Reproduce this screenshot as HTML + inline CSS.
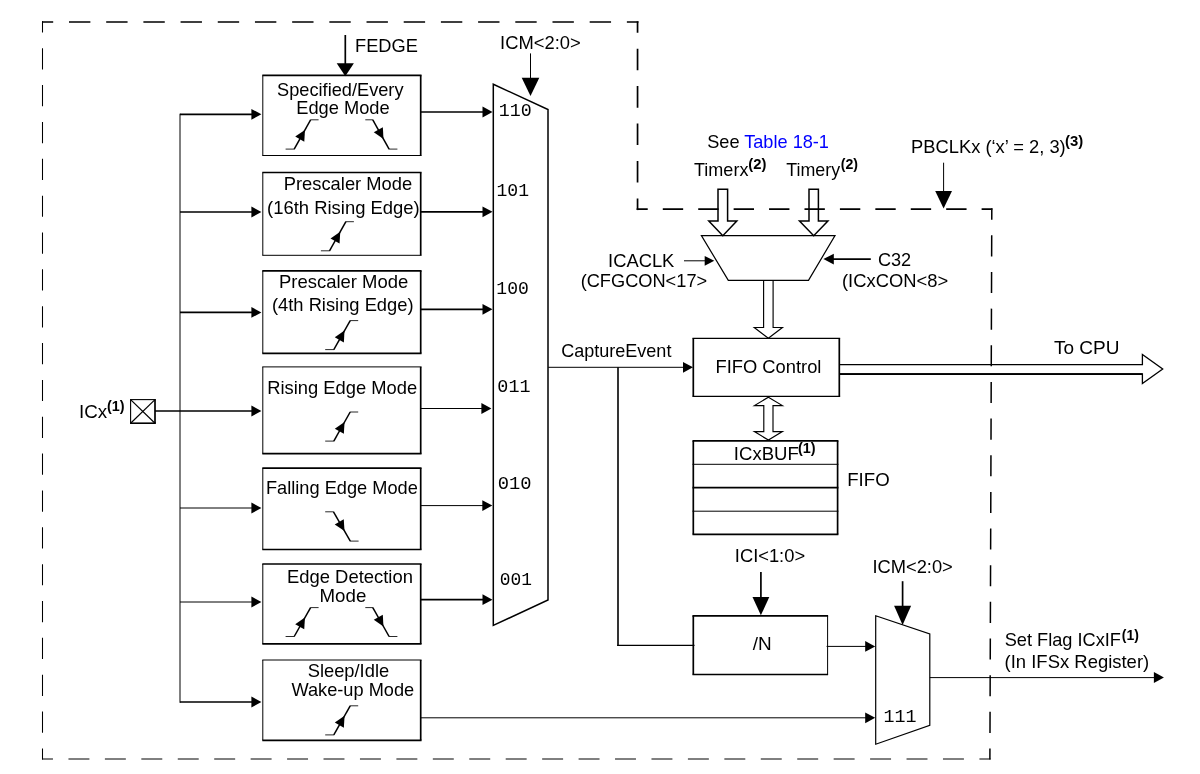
<!DOCTYPE html>
<html lang="en"><head><meta charset="utf-8"><title>Input Capture Block Diagram</title>
<style>html,body{margin:0;padding:0;background:#fff;}svg{display:block;will-change:transform;}text{font-family:"Liberation Sans", sans-serif;fill:#000;} .mono text{font-family:"Liberation Mono", monospace;}</style></head><body>
<svg width="1200" height="774" viewBox="0 0 1200 774" shape-rendering="geometricPrecision">
<rect width="1200" height="774" fill="#fff"/>
<g><line x1="180.00" y1="113.70" x2="180.00" y2="702.80" stroke="#000" stroke-width="1.0"/>
<line x1="180.00" y1="114.30" x2="255.40" y2="114.30" stroke="#000" stroke-width="1.7"/><path d="M261.40 114.30 L251.40 108.90 L251.40 119.70 Z" fill="#000"/>
<line x1="180.00" y1="212.00" x2="255.40" y2="212.00" stroke="#000" stroke-width="1.7"/><path d="M261.40 212.00 L251.40 206.60 L251.40 217.40 Z" fill="#000"/>
<line x1="180.00" y1="312.40" x2="255.40" y2="312.40" stroke="#000" stroke-width="1.7"/><path d="M261.40 312.40 L251.40 307.00 L251.40 317.80 Z" fill="#000"/>
<line x1="180.00" y1="508.00" x2="255.40" y2="508.00" stroke="#000" stroke-width="1.0"/><path d="M261.40 508.00 L251.40 502.60 L251.40 513.40 Z" fill="#000"/>
<line x1="180.00" y1="602.00" x2="255.40" y2="602.00" stroke="#000" stroke-width="1.0"/><path d="M261.40 602.00 L251.40 596.60 L251.40 607.40 Z" fill="#000"/>
<line x1="180.00" y1="702.00" x2="255.40" y2="702.00" stroke="#000" stroke-width="1.7"/><path d="M261.40 702.00 L251.40 696.60 L251.40 707.40 Z" fill="#000"/>
<line x1="155.00" y1="411.00" x2="255.40" y2="411.00" stroke="#000" stroke-width="1.7"/><path d="M261.40 411.00 L251.40 405.60 L251.40 416.40 Z" fill="#000"/>
<line x1="130.05" y1="399.60" x2="155.85" y2="399.60" stroke="#000" stroke-width="1.1"/><line x1="130.05" y1="423.20" x2="155.85" y2="423.20" stroke="#000" stroke-width="1.6"/><line x1="130.60" y1="399.60" x2="130.60" y2="423.20" stroke="#000" stroke-width="1.1"/><line x1="155.00" y1="399.60" x2="155.00" y2="423.20" stroke="#000" stroke-width="1.7"/>
<line x1="130.60" y1="399.60" x2="155.00" y2="423.20" stroke="#000" stroke-width="1.2"/>
<line x1="130.60" y1="423.20" x2="155.00" y2="399.60" stroke="#000" stroke-width="1.2"/>
<line x1="262.30" y1="75.40" x2="421.55" y2="75.40" stroke="#000" stroke-width="1.7"/><line x1="262.30" y1="155.50" x2="421.55" y2="155.50" stroke="#000" stroke-width="1.2"/><line x1="262.80" y1="75.40" x2="262.80" y2="155.50" stroke="#000" stroke-width="1.0"/><line x1="420.70" y1="75.40" x2="420.70" y2="155.50" stroke="#000" stroke-width="1.7"/>
<line x1="262.30" y1="172.50" x2="421.55" y2="172.50" stroke="#000" stroke-width="1.7"/><line x1="262.30" y1="255.30" x2="421.55" y2="255.30" stroke="#000" stroke-width="1.0"/><line x1="262.80" y1="172.50" x2="262.80" y2="255.30" stroke="#000" stroke-width="1.0"/><line x1="420.70" y1="172.50" x2="420.70" y2="255.30" stroke="#000" stroke-width="1.7"/>
<line x1="262.30" y1="270.80" x2="421.55" y2="270.80" stroke="#000" stroke-width="1.7"/><line x1="262.30" y1="353.40" x2="421.55" y2="353.40" stroke="#000" stroke-width="1.7"/><line x1="262.80" y1="270.80" x2="262.80" y2="353.40" stroke="#000" stroke-width="1.0"/><line x1="420.70" y1="270.80" x2="420.70" y2="353.40" stroke="#000" stroke-width="1.7"/>
<line x1="262.30" y1="366.90" x2="421.55" y2="366.90" stroke="#000" stroke-width="1.0"/><line x1="262.30" y1="453.70" x2="421.55" y2="453.70" stroke="#000" stroke-width="1.7"/><line x1="262.80" y1="366.90" x2="262.80" y2="453.70" stroke="#000" stroke-width="1.0"/><line x1="420.70" y1="366.90" x2="420.70" y2="453.70" stroke="#000" stroke-width="1.7"/>
<line x1="262.30" y1="468.20" x2="421.55" y2="468.20" stroke="#000" stroke-width="1.7"/><line x1="262.30" y1="549.50" x2="421.55" y2="549.50" stroke="#000" stroke-width="1.3"/><line x1="262.80" y1="468.20" x2="262.80" y2="549.50" stroke="#000" stroke-width="1.0"/><line x1="420.70" y1="468.20" x2="420.70" y2="549.50" stroke="#000" stroke-width="1.7"/>
<line x1="262.30" y1="564.00" x2="421.55" y2="564.00" stroke="#000" stroke-width="1.7"/><line x1="262.30" y1="643.90" x2="421.55" y2="643.90" stroke="#000" stroke-width="1.7"/><line x1="262.80" y1="564.00" x2="262.80" y2="643.90" stroke="#000" stroke-width="1.0"/><line x1="420.70" y1="564.00" x2="420.70" y2="643.90" stroke="#000" stroke-width="1.7"/>
<line x1="262.30" y1="660.00" x2="421.55" y2="660.00" stroke="#000" stroke-width="1.0"/><line x1="262.30" y1="740.30" x2="421.55" y2="740.30" stroke="#000" stroke-width="1.7"/><line x1="262.80" y1="660.00" x2="262.80" y2="740.30" stroke="#000" stroke-width="1.0"/><line x1="420.70" y1="660.00" x2="420.70" y2="740.30" stroke="#000" stroke-width="1.7"/>
<line x1="420.70" y1="112.00" x2="486.50" y2="112.00" stroke="#000" stroke-width="1.7"/><path d="M492.50 112.00 L482.50 106.60 L482.50 117.40 Z" fill="#000"/>
<line x1="420.70" y1="211.80" x2="486.50" y2="211.80" stroke="#000" stroke-width="1.7"/><path d="M492.50 211.80 L482.50 206.40 L482.50 217.20 Z" fill="#000"/>
<line x1="420.70" y1="309.30" x2="486.50" y2="309.30" stroke="#000" stroke-width="1.7"/><path d="M492.50 309.30 L482.50 303.90 L482.50 314.70 Z" fill="#000"/>
<line x1="420.70" y1="408.50" x2="485.40" y2="408.50" stroke="#000" stroke-width="1.0"/><path d="M491.40 408.50 L481.40 403.10 L481.40 413.90 Z" fill="#000"/>
<line x1="420.70" y1="505.60" x2="486.30" y2="505.60" stroke="#000" stroke-width="1.0"/><path d="M492.30 505.60 L482.30 500.20 L482.30 511.00 Z" fill="#000"/>
<line x1="420.70" y1="599.70" x2="486.50" y2="599.70" stroke="#000" stroke-width="1.7"/><path d="M492.50 599.70 L482.50 594.30 L482.50 605.10 Z" fill="#000"/>
<path d="M493.30 84.20 L548.00 109.60 L548.00 600.00 L493.30 625.40 Z" fill="none" stroke="#000" stroke-width="1.5"/>
<line x1="285.60" y1="149.10" x2="294.50" y2="149.10" stroke="#2a2a2a" stroke-width="1.0"/><line x1="310.30" y1="119.80" x2="318.60" y2="119.80" stroke="#2a2a2a" stroke-width="1.0"/><line x1="294.20" y1="149.10" x2="310.60" y2="119.80" stroke="#000" stroke-width="1.5"/><path d="M304.94 129.91 L304.30 141.70 L295.23 136.62 Z" fill="#000"/>
<line x1="365.30" y1="119.80" x2="373.10" y2="119.80" stroke="#2a2a2a" stroke-width="1.0"/><line x1="388.80" y1="149.10" x2="397.40" y2="149.10" stroke="#2a2a2a" stroke-width="1.0"/><line x1="372.80" y1="119.80" x2="389.10" y2="149.10" stroke="#000" stroke-width="1.5"/><path d="M383.48 138.99 L373.78 132.26 L382.87 127.20 Z" fill="#000"/>
<line x1="320.90" y1="250.80" x2="329.80" y2="250.80" stroke="#2a2a2a" stroke-width="1.0"/><line x1="345.60" y1="221.70" x2="353.90" y2="221.70" stroke="#2a2a2a" stroke-width="1.0"/><line x1="329.50" y1="250.80" x2="345.90" y2="221.70" stroke="#000" stroke-width="1.5"/><path d="M340.24 231.74 L339.57 243.53 L330.51 238.42 Z" fill="#000"/>
<line x1="325.20" y1="349.60" x2="334.10" y2="349.60" stroke="#2a2a2a" stroke-width="1.0"/><line x1="349.90" y1="320.60" x2="358.20" y2="320.60" stroke="#2a2a2a" stroke-width="1.0"/><line x1="333.80" y1="349.60" x2="350.20" y2="320.60" stroke="#000" stroke-width="1.5"/><path d="M344.54 330.61 L343.85 342.39 L334.80 337.27 Z" fill="#000"/>
<line x1="325.20" y1="441.10" x2="334.10" y2="441.10" stroke="#2a2a2a" stroke-width="1.0"/><line x1="349.90" y1="412.00" x2="358.20" y2="412.00" stroke="#2a2a2a" stroke-width="1.0"/><line x1="333.80" y1="441.10" x2="350.20" y2="412.00" stroke="#000" stroke-width="1.5"/><path d="M344.54 422.04 L343.87 433.83 L334.81 428.72 Z" fill="#000"/>
<line x1="325.20" y1="511.80" x2="333.80" y2="511.80" stroke="#2a2a2a" stroke-width="1.0"/><line x1="350.00" y1="541.10" x2="358.60" y2="541.10" stroke="#2a2a2a" stroke-width="1.0"/><line x1="333.50" y1="511.80" x2="350.30" y2="541.10" stroke="#000" stroke-width="1.5"/><path d="M344.50 530.99 L334.72 524.38 L343.74 519.21 Z" fill="#000"/>
<line x1="285.60" y1="636.50" x2="294.50" y2="636.50" stroke="#2a2a2a" stroke-width="1.0"/><line x1="310.30" y1="607.60" x2="318.60" y2="607.60" stroke="#2a2a2a" stroke-width="1.0"/><line x1="294.20" y1="636.50" x2="310.60" y2="607.60" stroke="#000" stroke-width="1.5"/><path d="M304.94 617.57 L304.23 629.36 L295.19 624.22 Z" fill="#000"/>
<line x1="365.30" y1="607.60" x2="373.10" y2="607.60" stroke="#2a2a2a" stroke-width="1.0"/><line x1="388.80" y1="636.50" x2="397.40" y2="636.50" stroke="#2a2a2a" stroke-width="1.0"/><line x1="372.80" y1="607.60" x2="389.10" y2="636.50" stroke="#000" stroke-width="1.5"/><path d="M383.48 626.53 L373.74 619.85 L382.80 614.74 Z" fill="#000"/>
<line x1="325.20" y1="734.90" x2="334.10" y2="734.90" stroke="#2a2a2a" stroke-width="1.0"/><line x1="349.90" y1="705.80" x2="358.20" y2="705.80" stroke="#2a2a2a" stroke-width="1.0"/><line x1="333.80" y1="734.90" x2="350.20" y2="705.80" stroke="#000" stroke-width="1.5"/><path d="M344.54 715.84 L343.87 727.63 L334.81 722.52 Z" fill="#000"/>
<line x1="345.30" y1="35.00" x2="345.30" y2="68.40" stroke="#000" stroke-width="1.7"/><path d="M345.30 76.20 L336.70 63.20 L353.90 63.20 Z" fill="#000"/>
<line x1="530.50" y1="53.40" x2="530.50" y2="85.06" stroke="#000" stroke-width="1.0"/><path d="M530.50 96.10 L521.70 77.70 L539.30 77.70 Z" fill="#000"/>
<line x1="548.20" y1="367.30" x2="687.00" y2="367.30" stroke="#000" stroke-width="1.0"/><path d="M693.00 367.30 L683.00 361.90 L683.00 372.70 Z" fill="#000"/>
<line x1="618.00" y1="367.30" x2="618.00" y2="646.00" stroke="#000" stroke-width="1.6"/>
<line x1="617.20" y1="645.40" x2="694.50" y2="645.40" stroke="#000" stroke-width="1.1"/>
<line x1="692.45" y1="338.40" x2="840.15" y2="338.40" stroke="#000" stroke-width="1.1"/><line x1="692.45" y1="396.40" x2="840.15" y2="396.40" stroke="#000" stroke-width="1.2"/><line x1="693.30" y1="338.40" x2="693.30" y2="396.40" stroke="#000" stroke-width="1.7"/><line x1="839.30" y1="338.40" x2="839.30" y2="396.40" stroke="#000" stroke-width="1.7"/>
<line x1="692.45" y1="615.80" x2="828.10" y2="615.80" stroke="#000" stroke-width="1.7"/><line x1="692.45" y1="674.50" x2="828.10" y2="674.50" stroke="#000" stroke-width="1.3"/><line x1="693.30" y1="615.80" x2="693.30" y2="674.50" stroke="#000" stroke-width="1.7"/><line x1="827.60" y1="615.80" x2="827.60" y2="674.50" stroke="#000" stroke-width="1.0"/>
<line x1="760.90" y1="572.00" x2="760.90" y2="604.32" stroke="#000" stroke-width="1.7"/><path d="M760.90 615.30 L752.50 597.00 L769.30 597.00 Z" fill="#000"/>
<line x1="826.60" y1="646.40" x2="869.20" y2="646.40" stroke="#000" stroke-width="1.0"/><path d="M875.20 646.40 L865.20 641.00 L865.20 651.80 Z" fill="#000"/>
<line x1="693.30" y1="440.80" x2="693.30" y2="534.40" stroke="#000" stroke-width="1.7"/>
<line x1="837.60" y1="440.80" x2="837.60" y2="534.40" stroke="#000" stroke-width="1.7"/>
<line x1="692.50" y1="440.80" x2="838.40" y2="440.80" stroke="#000" stroke-width="1.7"/>
<line x1="692.50" y1="464.30" x2="838.40" y2="464.30" stroke="#000" stroke-width="1.0"/>
<line x1="692.50" y1="487.60" x2="838.40" y2="487.60" stroke="#000" stroke-width="1.7"/>
<line x1="692.50" y1="511.20" x2="838.40" y2="511.20" stroke="#000" stroke-width="1.0"/>
<line x1="692.50" y1="534.40" x2="838.40" y2="534.40" stroke="#000" stroke-width="1.7"/>
<path d="M718.00 189.30 L718.00 221.00 L708.80 221.00 L722.80 235.70 L736.80 221.00 L727.60 221.00 L727.60 189.30 Z" fill="none" stroke="#000" stroke-width="1.5"/>
<path d="M809.00 189.30 L809.00 221.00 L799.50 221.00 L813.70 235.70 L827.90 221.00 L818.40 221.00 L818.40 189.30 Z" fill="none" stroke="#000" stroke-width="1.5"/>
<path d="M701.40 235.60 L835.00 235.60 L808.50 280.30 L728.30 280.30 Z" fill="none" stroke="#000" stroke-width="1.2"/>
<path d="M763.60 280.30 L763.60 327.50 L754.25 327.50 L768.35 338.30 L782.45 327.50 L773.10 327.50 L773.10 280.30" fill="none" stroke="#000" stroke-width="1.15"/>
<line x1="684.00" y1="260.80" x2="708.54" y2="260.80" stroke="#000" stroke-width="1.0"/><path d="M714.30 260.80 L704.70 255.90 L704.70 265.70 Z" fill="#000"/>
<line x1="870.80" y1="259.10" x2="829.64" y2="259.10" stroke="#000" stroke-width="1.7"/><path d="M823.40 259.10 L833.80 253.80 L833.80 264.40 Z" fill="#000"/>
<path d="M768.40 397.20 L782.40 405.60 L773.00 405.60 L773.00 431.60 L782.40 431.60 L768.40 440.10 L754.40 431.60 L763.80 431.60 L763.80 405.60 L754.40 405.60 Z" fill="none" stroke="#000" stroke-width="1.15"/>
<path d="M839.30 364.60 L1142.40 364.60 L1142.40 354.40 L1162.70 369.00 L1142.40 383.60 L1142.40 374.00 L839.30 374.00" fill="none" stroke="#000" stroke-width="1.3"/>
<line x1="839.30" y1="374.10" x2="1142.40" y2="374.10" stroke="#000" stroke-width="1.6"/>
<line x1="943.60" y1="162.70" x2="943.60" y2="198.04" stroke="#000" stroke-width="1.0"/><path d="M943.60 208.60 L935.20 191.00 L952.00 191.00 Z" fill="#000"/>
<path d="M875.70 615.80 L929.80 633.90 L929.80 725.40 L875.70 744.20 Z" fill="none" stroke="#000" stroke-width="1.2"/>
<line x1="902.60" y1="581.20" x2="902.60" y2="613.52" stroke="#000" stroke-width="1.7"/><path d="M902.60 625.10 L894.10 605.80 L911.10 605.80 Z" fill="#000"/>
<line x1="929.80" y1="677.60" x2="1157.90" y2="677.60" stroke="#000" stroke-width="1.0"/><path d="M1163.90 677.60 L1153.90 672.10 L1153.90 683.10 Z" fill="#000"/>
<line x1="420.70" y1="717.80" x2="869.20" y2="717.80" stroke="#000" stroke-width="1.0"/><path d="M875.20 717.80 L865.20 712.40 L865.20 723.20 Z" fill="#000"/>
<line x1="42.50" y1="22.00" x2="637.55" y2="22.00" stroke="#000" stroke-width="1.7" stroke-dasharray="21.385 15.806" stroke-dashoffset="10.692"/><line x1="42.00" y1="22.00" x2="42.50" y2="22.00" stroke="#000" stroke-width="1.7"/><line x1="637.55" y1="22.00" x2="638.45" y2="22.00" stroke="#000" stroke-width="1.7"/>
<line x1="637.55" y1="22.00" x2="637.55" y2="209.20" stroke="#000" stroke-width="1.7" stroke-dasharray="21.528 15.912" stroke-dashoffset="10.764"/><line x1="637.55" y1="21.20" x2="637.55" y2="22.00" stroke="#000" stroke-width="1.7"/><line x1="637.55" y1="209.20" x2="637.55" y2="210.10" stroke="#000" stroke-width="1.7"/>
<line x1="637.55" y1="209.20" x2="991.80" y2="209.20" stroke="#000" stroke-width="1.7" stroke-dasharray="20.369 15.056" stroke-dashoffset="10.185"/><line x1="636.65" y1="209.20" x2="637.55" y2="209.20" stroke="#000" stroke-width="1.7"/><line x1="991.80" y1="209.20" x2="992.40" y2="209.20" stroke="#000" stroke-width="1.7"/>
<line x1="991.80" y1="209.20" x2="989.90" y2="759.00" stroke="#000" stroke-width="1.5" stroke-dasharray="21.076 15.578" stroke-dashoffset="10.538"/><line x1="991.80" y1="208.30" x2="991.80" y2="209.20" stroke="#000" stroke-width="1.5"/><line x1="989.90" y1="759.00" x2="989.90" y2="759.60" stroke="#000" stroke-width="1.5"/>
<line x1="42.50" y1="759.00" x2="989.90" y2="759.00" stroke="#000" stroke-width="1.0" stroke-dasharray="20.952 15.486" stroke-dashoffset="10.476"/><line x1="42.00" y1="759.00" x2="42.50" y2="759.00" stroke="#000" stroke-width="1.0"/><line x1="989.90" y1="759.00" x2="990.60" y2="759.00" stroke="#000" stroke-width="1.0"/>
<line x1="42.50" y1="22.00" x2="42.50" y2="759.00" stroke="#000" stroke-width="1.05" stroke-dasharray="21.189 15.661" stroke-dashoffset="10.594"/><line x1="42.50" y1="21.10" x2="42.50" y2="22.00" stroke="#000" stroke-width="1.05"/><line x1="42.50" y1="759.00" x2="42.50" y2="759.60" stroke="#000" stroke-width="1.05"/></g>
<g>
<text x="355.00" y="52.30" font-size="18.2" textLength="62.83" lengthAdjust="spacingAndGlyphs">FEDGE</text>
<text x="500.06" y="49.00" font-size="18.2" textLength="80.63" lengthAdjust="spacingAndGlyphs">ICM&lt;2:0&gt;</text>
<text x="277.11" y="95.60" font-size="18.2" textLength="126.43" lengthAdjust="spacingAndGlyphs">Specified/Every</text>
<text x="296.26" y="113.70" font-size="18.2" textLength="93.38" lengthAdjust="spacingAndGlyphs">Edge Mode</text>
<text x="283.75" y="189.70" font-size="18.2" textLength="128.41" lengthAdjust="spacingAndGlyphs">Prescaler Mode</text>
<text x="267.00" y="213.60" font-size="18.2" textLength="152.72" lengthAdjust="spacingAndGlyphs">(16th Rising Edge)</text>
<text x="279.00" y="287.70" font-size="18.2" textLength="129.31" lengthAdjust="spacingAndGlyphs">Prescaler Mode</text>
<text x="271.98" y="311.30" font-size="18.2" textLength="141.59" lengthAdjust="spacingAndGlyphs">(4th Rising Edge)</text>
<text x="267.27" y="393.90" font-size="18.2" textLength="149.87" lengthAdjust="spacingAndGlyphs">Rising Edge Mode</text>
<text x="266.00" y="493.80" font-size="18.2" textLength="151.75" lengthAdjust="spacingAndGlyphs">Falling Edge Mode</text>
<text x="286.98" y="583.40" font-size="18.2" textLength="126.00" lengthAdjust="spacingAndGlyphs">Edge Detection</text>
<text x="319.50" y="601.50" font-size="18.2" textLength="46.80" lengthAdjust="spacingAndGlyphs">Mode</text>
<text x="307.71" y="676.90" font-size="18.2" textLength="81.44" lengthAdjust="spacingAndGlyphs">Sleep/Idle</text>
<text x="291.52" y="696.20" font-size="18.2" textLength="122.62" lengthAdjust="spacingAndGlyphs">Wake-up Mode</text>
<text x="79.07" y="418.10" font-size="18.2" textLength="28.15" lengthAdjust="spacingAndGlyphs">ICx</text>
<text x="107.04" y="410.90" font-size="14.6" font-weight="bold" textLength="17.58" lengthAdjust="spacingAndGlyphs">(1)</text>
<text x="707.20" y="147.90" font-size="18.2" textLength="121.76" lengthAdjust="spacingAndGlyphs">See <tspan fill="#0000ff">Table 18-1</tspan></text>
<text x="694.00" y="175.90" font-size="18.2" textLength="54.40" lengthAdjust="spacingAndGlyphs">Timerx</text>
<text x="748.23" y="169.00" font-size="14.6" font-weight="bold" textLength="18.12" lengthAdjust="spacingAndGlyphs">(2)</text>
<text x="786.31" y="175.90" font-size="18.2" textLength="53.82" lengthAdjust="spacingAndGlyphs">Timery</text>
<text x="840.76" y="169.00" font-size="14.6" font-weight="bold" textLength="17.30" lengthAdjust="spacingAndGlyphs">(2)</text>
<text x="911.00" y="153.00" font-size="18.2" textLength="154.72" lengthAdjust="spacingAndGlyphs">PBCLKx (‘x’ = 2, 3)</text>
<text x="1065.00" y="146.00" font-size="14.6" font-weight="bold" textLength="18.19" lengthAdjust="spacingAndGlyphs">(3)</text>
<text x="608.07" y="266.60" font-size="18.2" textLength="66.28" lengthAdjust="spacingAndGlyphs">ICACLK</text>
<text x="580.66" y="287.40" font-size="18.2" textLength="126.50" lengthAdjust="spacingAndGlyphs">(CFGCON&lt;17&gt;</text>
<text x="877.88" y="265.80" font-size="18.2" textLength="33.30" lengthAdjust="spacingAndGlyphs">C32</text>
<text x="842.00" y="286.90" font-size="18.2" textLength="106.20" lengthAdjust="spacingAndGlyphs">(ICxCON&lt;8&gt;</text>
<text x="561.17" y="357.00" font-size="18.2" textLength="110.24" lengthAdjust="spacingAndGlyphs">CaptureEvent</text>
<text x="715.51" y="372.80" font-size="18.2" textLength="105.94" lengthAdjust="spacingAndGlyphs">FIFO Control</text>
<text x="1054.00" y="353.80" font-size="18.2" textLength="65.48" lengthAdjust="spacingAndGlyphs">To CPU</text>
<text x="733.85" y="459.50" font-size="18.2" textLength="64.87" lengthAdjust="spacingAndGlyphs">ICxBUF</text>
<text x="798.01" y="453.30" font-size="14.6" font-weight="bold" textLength="17.64" lengthAdjust="spacingAndGlyphs">(1)</text>
<text x="847.25" y="485.80" font-size="18.2" textLength="42.39" lengthAdjust="spacingAndGlyphs">FIFO</text>
<text x="734.80" y="562.40" font-size="18.2" textLength="70.33" lengthAdjust="spacingAndGlyphs">ICI&lt;1:0&gt;</text>
<text x="752.82" y="650.40" font-size="18.2" textLength="18.93" lengthAdjust="spacingAndGlyphs">/N</text>
<text x="872.42" y="573.40" font-size="18.2" textLength="80.41" lengthAdjust="spacingAndGlyphs">ICM&lt;2:0&gt;</text>
<text x="1004.69" y="646.10" font-size="18.2" textLength="116.28" lengthAdjust="spacingAndGlyphs">Set Flag ICxIF</text>
<text x="1121.72" y="639.90" font-size="14.6" font-weight="bold" textLength="17.10" lengthAdjust="spacingAndGlyphs">(1)</text>
<text x="1004.59" y="667.60" font-size="18.2" textLength="144.60" lengthAdjust="spacingAndGlyphs">(In IFSx Register)</text>
</g><g class="mono">
<text x="498.69" y="116.30" font-size="17.6" textLength="32.98" lengthAdjust="spacingAndGlyphs">110</text>
<text x="496.41" y="195.90" font-size="17.6" textLength="32.60" lengthAdjust="spacingAndGlyphs">101</text>
<text x="496.38" y="294.10" font-size="17.6" textLength="32.47" lengthAdjust="spacingAndGlyphs">100</text>
<text x="497.38" y="392.20" font-size="17.6" textLength="33.14" lengthAdjust="spacingAndGlyphs">011</text>
<text x="497.81" y="489.30" font-size="17.6" textLength="33.82" lengthAdjust="spacingAndGlyphs">010</text>
<text x="499.71" y="585.30" font-size="17.6" textLength="32.18" lengthAdjust="spacingAndGlyphs">001</text>
<text x="883.51" y="722.40" font-size="17.6" textLength="33.05" lengthAdjust="spacingAndGlyphs">111</text>
</g>
</svg></body></html>
